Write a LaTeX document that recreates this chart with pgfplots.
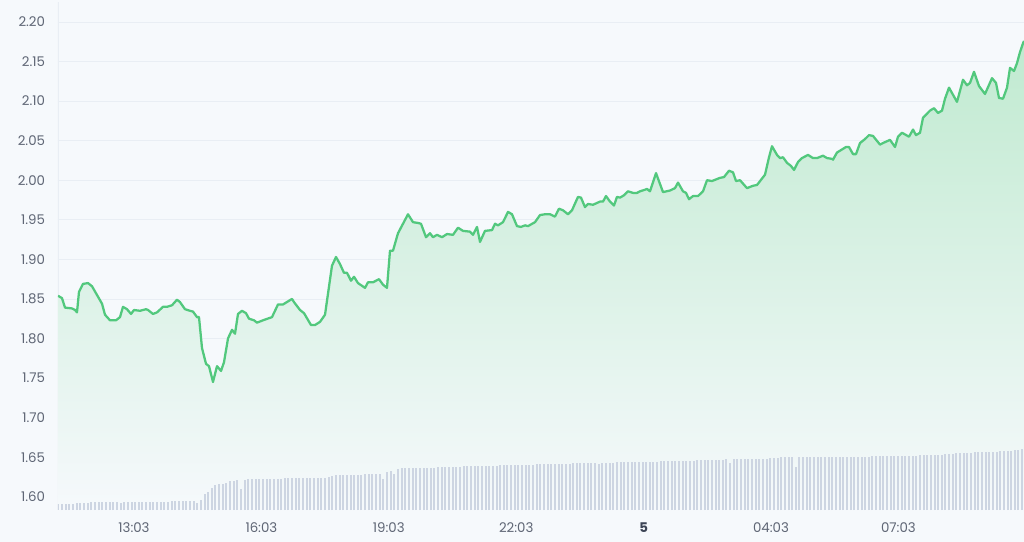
\documentclass[border=0pt]{standalone}
\usepackage{pgfplots}
\pgfplotsset{compat=1.18}
\usepackage{pgfplotstable}
\usepackage{fontspec}
\setmainfont{Poppins}
\definecolor{bgc}{RGB}{246,249,252}
\definecolor{gridc}{RGB}{233,238,244}
\definecolor{linec}{RGB}{82,200,125}
\definecolor{filltop}{RGB}{192,234,208}
\definecolor{barc}{RGB}{205,213,226}
\definecolor{labc}{RGB}{95,102,117}
\definecolor{labdark}{RGB}{60,68,85}

\pgfplotstableread{
x v
58 1.854
62 1.851
65 1.839
72 1.838
75 1.836
77 1.833
79 1.859
83 1.869
88 1.870
92 1.866
97 1.855
102 1.844
105 1.830
110 1.823
116 1.823
120 1.827
123 1.840
127 1.837
131 1.831
134 1.836
140 1.835
146 1.837
148 1.836
153 1.831
157 1.833
163 1.840
167 1.840
172 1.842
177 1.849
180 1.846
185 1.837
190 1.835
193 1.834
197 1.827
199 1.827
202 1.788
206 1.768
209 1.765
213 1.745
217 1.765
221 1.759
224 1.770
228 1.800
232 1.811
235 1.806
238 1.831
242 1.835
246 1.832
249 1.825
254 1.823
257 1.820
263 1.823
272 1.827
278 1.843
283 1.843
292 1.850
294 1.846
300 1.836
304 1.832
311 1.817
315 1.817
320 1.821
325 1.830
332 1.892
336 1.903
340 1.894
344 1.883
347 1.883
351 1.873
354 1.878
358 1.870
365 1.864
368 1.871
373 1.871
379 1.875
383 1.868
387 1.864
390 1.911
393 1.911
398 1.933
408 1.957
413 1.947
418 1.946
421 1.945
426 1.928
430 1.933
433 1.928
437 1.931
442 1.928
447 1.932
453 1.931
458 1.940
463 1.936
470 1.935
473 1.931
477 1.941
480 1.922
485 1.936
492 1.937
495 1.945
498 1.943
503 1.947
508 1.960
512 1.957
517 1.942
521 1.941
525 1.943
528 1.942
535 1.947
540 1.956
545 1.957
550 1.957
555 1.954
559 1.964
563 1.962
568 1.957
572 1.962
578 1.979
581 1.978
585 1.966
588 1.970
593 1.969
600 1.973
603 1.973
606 1.980
610 1.973
614 1.968
617 1.979
620 1.978
624 1.981
628 1.986
633 1.984
637 1.984
640 1.986
645 1.988
647 1.989
650 1.986
656 2.009
663 1.985
670 1.987
675 1.990
678 1.997
683 1.986
686 1.984
689 1.976
693 1.980
698 1.980
703 1.986
707 2.000
712 1.999
720 2.003
724 2.004
729 2.012
733 2.010
736 1.999
740 2.000
747 1.990
753 1.993
757 1.994
765 2.007
769 2.029
772 2.043
777 2.032
780 2.028
783 2.029
787 2.022
791 2.018
794 2.013
798 2.023
802 2.028
808 2.032
813 2.028
817 2.028
823 2.031
827 2.028
832 2.027
833 2.026
837 2.035
846 2.042
849 2.042
853 2.033
856 2.033
860 2.047
865 2.052
869 2.057
873 2.056
880 2.045
883 2.047
890 2.051
895 2.042
898 2.055
902 2.060
909 2.055
913 2.064
916 2.057
920 2.060
923 2.079
930 2.088
934 2.091
938 2.085
942 2.088
945 2.103
949 2.117
957 2.099
963 2.127
967 2.120
970 2.123
974 2.137
979 2.119
985 2.109
992 2.129
996 2.123
999 2.104
1003 2.103
1007 2.117
1010 2.142
1014 2.138
1017 2.148
1020 2.162
1023 2.173
1024 2.176
}\pricedata

\pgfplotstableread{
h
6
6
6
6
6
6.7
6.7
6.7
6.7
8
8
8
8
8
8
8
8
6.7
8.3
8.3
8.3
8.3
8.3
8.3
8.3
8.5
8.5
8.5
8.5
8.5
8.5
8.7
8.7
8.7
8.7
9
9
9
7.3
10
15.7
18
21.7
24.7
26
26
26.7
29
29
30
21
30
30.7
30.7
30.7
30.7
30.7
30.7
30.7
30.7
30.7
30.7
31.7
31.7
31.7
31.7
31.7
31.7
31.7
31.7
31.7
31.7
31.7
31.7
33
34
35
35
35
35
35
35
35
35
36
36
36
36
36
30.7
38.3
39
36
41
41.7
41.7
41.7
41.7
42
42
42.2
42.3
42.5
42.6
42.8
43
43
43.2
43.3
43.5
43.6
43.8
44
44
44
44.1
44.2
44.3
44.4
44.5
44.6
44.7
44.8
44.9
45
45.1
45.2
45.3
45.4
45.5
45.6
45.7
45.8
46
46
46.1
46.2
46.3
46.4
46.5
46.6
46.7
46.8
46.9
47
47.1
47.2
47.3
45.7
47.3
47.4
47.5
47.6
47.7
47.8
47.9
48
48.1
48.2
48.3
48.3
48.3
48.4
48.5
48.6
48.7
48.8
48.9
49
49.1
49.2
49.3
49.4
49.5
49.6
49.7
49.8
49.9
50
50.1
50.3
50.4
50.5
50.7
46.7
50.7
50.7
50.8
50.8
50.9
50.9
51
51
51.2
51.5
51.8
52.2
52.5
52.7
52.7
52.7
52.7
42.7
52.8
52.8
52.9
52.9
53
53
53
53.1
53.1
53.2
53.2
53.3
53.3
53.3
53.4
53.4
53.5
53.5
53.6
53.6
53.7
53.8
53.8
53.9
54
54
54.1
54.2
54.3
54.3
54.4
54.5
54.6
54.7
54.8
55
55
55.2
55.4
55.6
55.8
56
56.3
56.7
56.9
57.1
57.3
57.5
57.7
57.8
57.9
58
58.1
58.3
58.5
58.7
59
59.3
59.6
60
60.3
60.7
}\voldata

\begin{document}
\begin{tikzpicture}
\fill[bgc] (-43.5pt,-23.85pt) rectangle (724.5pt,382.65pt);
\begin{axis}[
  name=main,
  at={(0,0)}, anchor=south west,
  scale only axis, width=724.5pt, height=381pt,
  xmin=58, xmax=1024, ymin=1.583, ymax=2.225,
  axis line style={draw=none},
  tick style={draw=none},
  ymajorgrids, grid style={gridc, line width=0.6pt},
  ytick={1.60,1.65,1.70,1.75,1.80,1.85,1.90,1.95,2.00,2.05,2.10,2.15,2.20},
  yticklabels={1.60,1.65,1.70,1.75,1.80,1.85,1.90,1.95,2.00,2.05,2.10,2.15,2.20},
  xtick={134,261.4,388.8,516.2,643.6,771,898.4},
  xticklabels={13:03,16:03,19:03,22:03,{\color{labdark}\bfseries 5},04:03,07:03},
  tick label style={font=\fontsize{10}{12}\selectfont, text=labc},
  yticklabel style={anchor=east, xshift=-6.2pt},
  xticklabel style={anchor=north, yshift=-6pt},
]
\draw[gridc, line width=0.8pt] (rel axis cs:0,0) -- (rel axis cs:0,1);
\addplot[draw=none, top color=filltop, bottom color=bgc] table[x=x,y=v] {\pricedata}
  -- (axis cs:1024,1.583) -- (axis cs:58,1.583) -- cycle;
\addplot[linec, line width=1.7pt, line join=round] table[x=x,y=v] {\pricedata};
\end{axis}
\begin{axis}[
  at={(0,0)}, anchor=south west,
  scale only axis, width=724.5pt, height=381pt,
  xmin=-0.137, xmax=264.52, ymin=0, ymax=508,
  hide axis,
]
\addplot[ycomb, barc, line width=1.5pt, mark=none] table[x expr=\coordindex, y=h] {\voldata};
\end{axis}
\pgfresetboundingbox
\path (-43.5pt,-23.85pt) rectangle (724.5pt,382.65pt);
\end{tikzpicture}
\end{document}
